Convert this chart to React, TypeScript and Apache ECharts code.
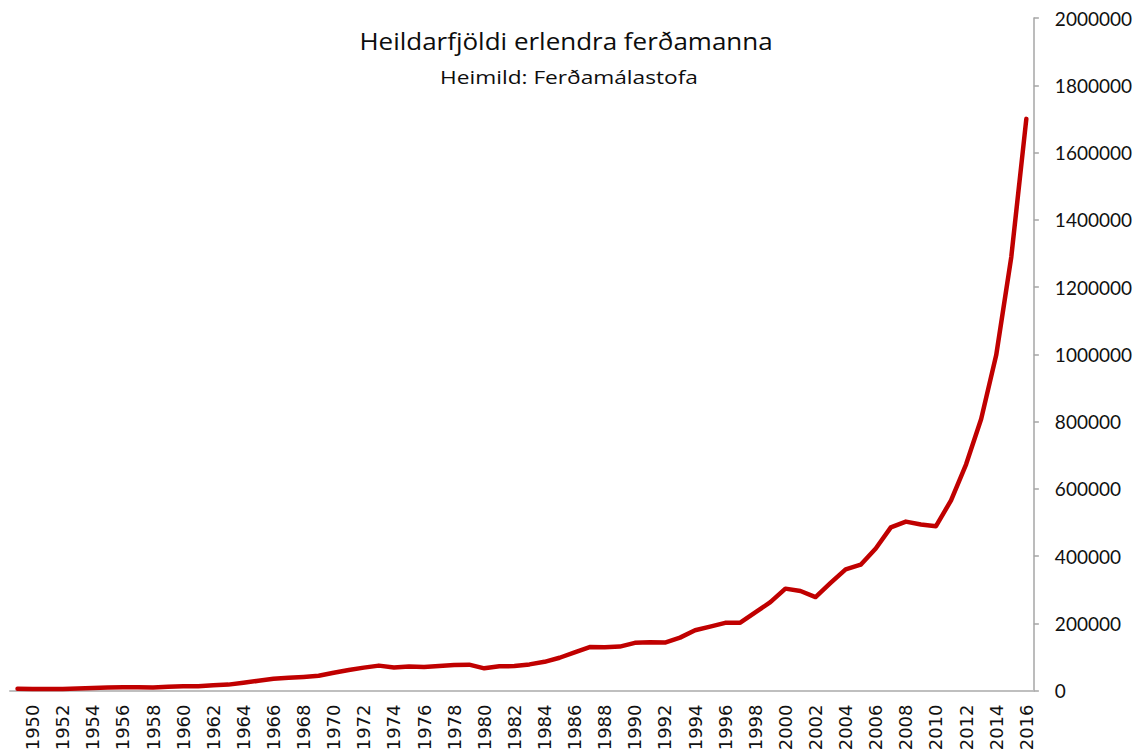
import React, { useEffect, useRef } from "react";
import * as echarts from "echarts";

const years: string[] = [
  "1949","1950","1951","1952","1953","1954","1955","1956","1957","1958","1959",
  "1960","1961","1962","1963","1964","1965","1966","1967","1968","1969",
  "1970","1971","1972","1973","1974","1975","1976","1977","1978","1979",
  "1980","1981","1982","1983","1984","1985","1986","1987","1988","1989",
  "1990","1991","1992","1993","1994","1995","1996","1997","1998","1999",
  "2000","2001","2002","2003","2004","2005","2006","2007","2008","2009",
  "2010","2011","2012","2013","2014","2015","2016",
];

const visitors: number[] = [
  5300, 4400, 4800, 4300, 6000, 7200, 9000, 9500, 9800, 9200, 11000,
  12800, 12400, 15500, 17500, 23000, 28900, 34700, 37700, 40400, 44000,
  52900, 60700, 68000, 74000, 68500, 71700, 70200, 72700, 75700, 76900,
  65900, 71900, 72600, 77600, 85300, 97400, 113500, 129300, 128800, 130500,
  141700, 143500, 142600, 157300, 179200, 189800, 201300, 201700, 232200, 262600,
  302900, 296000, 277800, 320000, 360400, 374100, 422300, 485000, 502300, 493900,
  488600, 565600, 672800, 807300, 997600, 1289100, 1700000,
];

const titleText = "Heildarfjöldi erlendra ferðamanna";
const subtitleText = "Heimild: Ferðamálastofa";

export default function App() {
  const ref = useRef<HTMLDivElement>(null);
  useEffect(() => {
    if (!ref.current) return;
    const chart = echarts.init(ref.current, null, { renderer: "svg" });
    chart.setOption({
      animation: false,
      backgroundColor: "#ffffff",
      grid: { left: 10, right: 101, top: 18, bottom: 63.5, containLabel: false },
      graphic: [
        {
          type: "text",
          x: 566,
          y: 41,
          scaleX: 1.13,
          style: {
            text: titleText,
            x: 0,
            y: 0,
            fontFamily: "Open Sans",
            fontSize: 23,
            fill: "#0d0d0d",
            textAlign: "center",
            textVerticalAlign: "middle",
          },
        },
        {
          type: "text",
          x: 569,
          y: 77,
          scaleX: 1.26,
          style: {
            text: subtitleText,
            x: 0,
            y: 0,
            fontFamily: "Open Sans",
            fontSize: 18,
            fill: "#0d0d0d",
            textAlign: "center",
            textVerticalAlign: "middle",
          },
        },
      ],
      xAxis: {
        type: "category",
        data: years,
        boundaryGap: true,
        axisLine: { show: true, lineStyle: { color: "#bfbfbf", width: 2 } },
        axisTick: { show: false },
        axisLabel: {
          rotate: 90,
          margin: 14,
          interval: (index: number) => index % 2 === 1,
          fontFamily: "DejaVu Sans",
          fontSize: 18,
          color: "#111111",
        },
        splitLine: { show: false },
      },
      yAxis: {
        type: "value",
        position: "right",
        min: 0,
        max: 2000000,
        interval: 200000,
        axisLine: { show: true, lineStyle: { color: "#a6a6a6", width: 1.5 } },
        axisTick: { show: true, inside: false, length: 5, lineStyle: { color: "#a6a6a6", width: 1.5 } },
        axisLabel: {
          margin: 21,
          fontFamily: "Lato",
          fontSize: 19,
          color: "#111111",
          formatter: (v: number) => String(v),
        },
        splitLine: { show: false },
      },
      series: [
        {
          type: "line",
          data: visitors,
          symbol: "none",
          smooth: false,
          lineStyle: { color: "#c00000", width: 4.5, cap: "round", join: "round" },
        },
      ],
    });
    return () => chart.dispose();
  }, []);
  return (
    <div
      ref={ref}
      style={{ position: "fixed", left: 0, top: 0, width: 1135, height: 754, background: "#fff" }}
    />
  );
}
